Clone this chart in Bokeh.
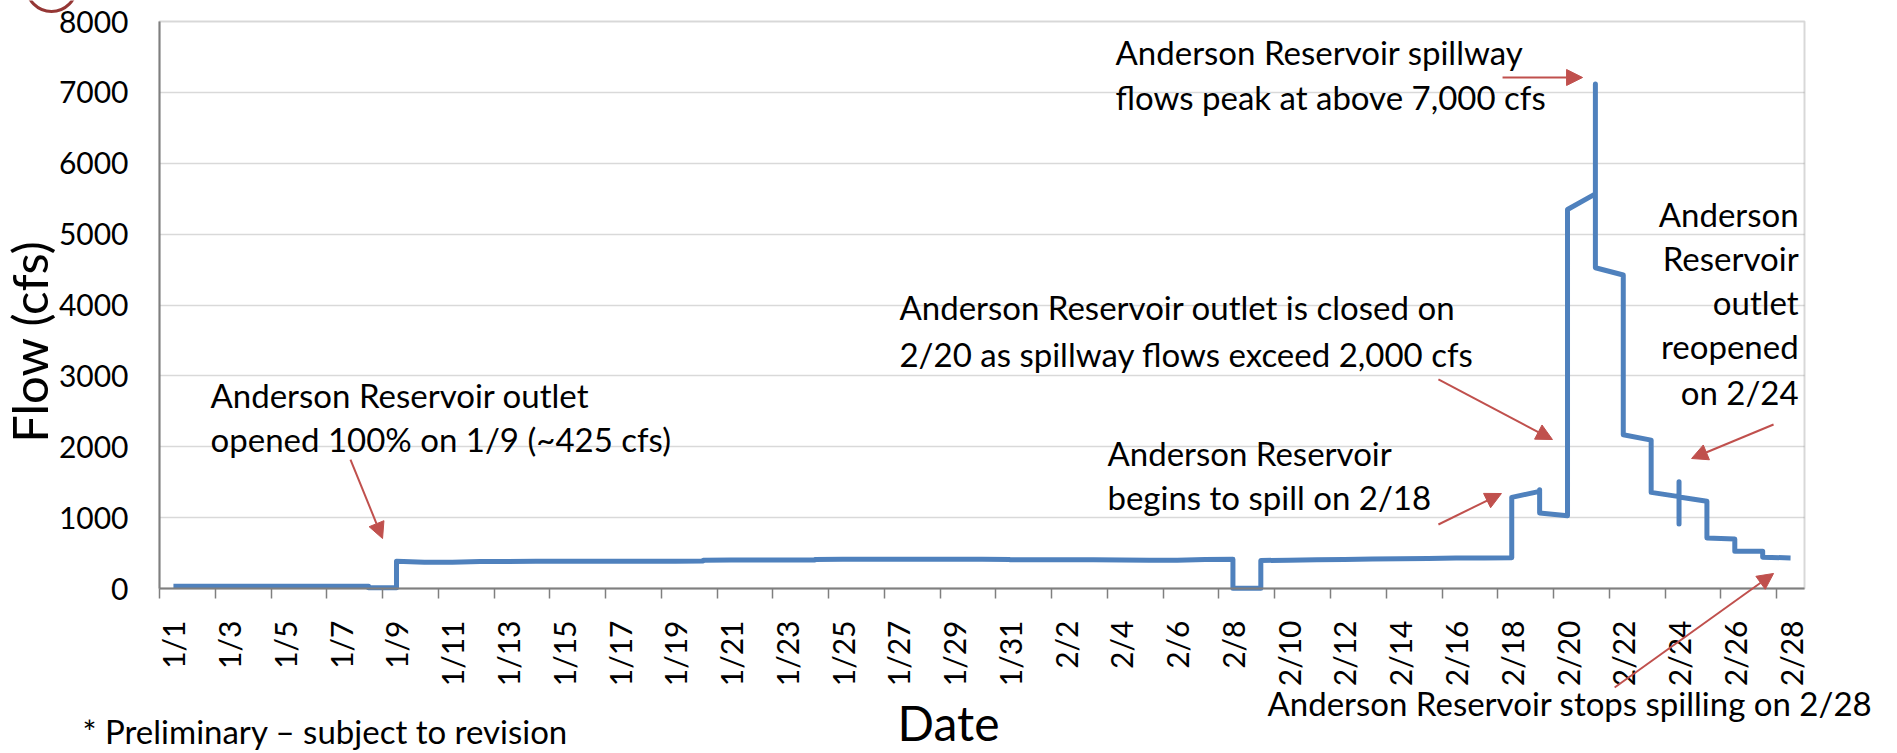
from math import pi
from bokeh.plotting import figure
from bokeh.models import Label, Arrow, NormalHead, FixedTicker, Range1d, BoxAnnotation
from bokeh.embed import file_html
from bokeh.resources import INLINE

# ---------------- data ----------------
date_labels = ["1/1", "1/2", "1/3", "1/4", "1/5", "1/6", "1/7", "1/8", "1/9", "1/10",
               "1/11", "1/12", "1/13", "1/14", "1/15", "1/16", "1/17", "1/18", "1/19", "1/20",
               "1/21", "1/22", "1/23", "1/24", "1/25", "1/26", "1/27", "1/28", "1/29", "1/30",
               "1/31", "2/1", "2/2", "2/3", "2/4", "2/5", "2/6", "2/7", "2/8", "2/9",
               "2/10", "2/11", "2/12", "2/13", "2/14", "2/15", "2/16", "2/17", "2/18", "2/19",
               "2/20", "2/21", "2/22", "2/23", "2/24", "2/25", "2/26", "2/27", "2/28"]

# readings in order; several readings of one day share that day's position (0 = 1/1)
reading_day = [0, 1, 2, 3, 4, 5, 6, 7, 7, 8, 8, 9, 10, 11, 12, 13, 14, 15, 16, 17, 18,
               19, 19, 20, 21, 22, 23, 23, 24, 25, 26, 27, 28, 29, 30, 30,
               31, 32, 33, 34, 35, 36, 37, 38, 38, 39, 39, 40, 41, 42, 43, 44, 45, 46, 47,
               48, 48, 49, 49, 49, 50, 50, 51, 51, 51, 52, 52, 53, 53,
               54, 54, 54, 54, 55, 55, 56, 56, 57, 57, 58]
reading_flow = [30, 30, 30, 30, 30, 30, 32, 32, 12, 12, 385, 370, 372, 382, 382, 383, 383, 384, 384, 385, 385,
                388, 400, 402, 402, 403, 403, 410, 412, 412, 412, 412, 412, 412, 410, 405,
                405, 405, 405, 403, 400, 400, 408, 412, 5, 5, 395, 400, 405, 410, 415, 420, 425, 430, 432,
                435, 1286, 1370, 1394, 1066, 1028, 5348, 5568, 7117, 4525, 4423, 2169, 2094, 1356,
                1296, 1507, 911, 1290, 1230, 714, 700, 525, 525, 441, 432]

y_ticks = [0, 1000, 2000, 3000, 4000, 5000, 6000, 7000, 8000]

# ---------------- layout (pixels) ----------------
W, H = 1890, 753
AREA_L, AREA_R, AREA_T, AREA_B = 159, 1804, 21, 588      # plot area inside the canvas
X0, X1 = -0.5, len(date_labels) - 0.5                     # day axis span
Y0, Y1 = y_ticks[0], y_ticks[-1]
px_x = (AREA_R - AREA_L) / (X1 - X0)
px_y = (AREA_B - AREA_T) / (Y1 - Y0)
x_range = Range1d(X0 - AREA_L / px_x, X1 + (W - AREA_R) / px_x)
y_range = Range1d(Y0 - (H - AREA_B) / px_y, Y1 + AREA_T / px_y)

FONT = "Lato"
BLUE = "#4F81BD"
RED = "#C0504D"
GREY = "#7F7F7F"

p = figure(width=W, height=H, output_backend="svg", toolbar_location=None,
           x_range=x_range, y_range=y_range,
           min_border_left=0, min_border_top=0, min_border_right=0, min_border_bottom=0)
p.title.visible = False
p.background_fill_color = "white"
p.border_fill_color = "white"
p.outline_line_color = None

# plot-area border
p.add_layout(BoxAnnotation(left=X0, right=X1, bottom=Y0, top=Y1, fill_color=None,
                           line_color=GREY, line_width=2, level="underlay"))

p.ygrid.grid_line_color = "#D9D9D9"
p.ygrid.grid_line_width = 1.5
p.ygrid.ticker = FixedTicker(ticks=y_ticks[1:-1])
p.ygrid.cross_bounds = (X0, X1)
p.xgrid.grid_line_color = None

p.line(reading_day, reading_flow, line_color=BLUE, line_width=5, line_join="round")

# x axis: labels at every other day, tick marks at day boundaries
label_days = list(range(0, len(date_labels), 2))
xa = p.xaxis[0]
xa.fixed_location = Y0
xa.bounds = (X0, X1)
xa.ticker = FixedTicker(ticks=label_days, minor_ticks=[d - 0.5 for d in label_days])
xa.major_label_overrides = {d: date_labels[d] for d in label_days}
xa.major_label_orientation = pi / 2
xa.major_tick_line_color = None
xa.major_tick_out = 0
xa.major_tick_in = 0
xa.minor_tick_line_color = GREY
xa.minor_tick_line_width = 1.5
xa.minor_tick_out = 10
xa.minor_tick_in = 0
xa.major_label_standoff = 22
xa.major_label_text_font = FONT
xa.major_label_text_font_size = "30px"
xa.major_label_text_color = "black"
xa.axis_line_color = GREY
xa.axis_line_width = 2

ya = p.yaxis[0]
ya.fixed_location = X0
ya.bounds = (Y0, Y1)
ya.ticker = FixedTicker(ticks=y_ticks, minor_ticks=[])
ya.major_tick_line_color = None
ya.major_tick_out = 0
ya.major_tick_in = 0
ya.major_label_standoff = 31
ya.major_label_text_font = FONT
ya.major_label_text_font_size = "30px"
ya.major_label_text_color = "black"
ya.axis_line_color = GREY
ya.axis_line_width = 2

# decorative ring at the top-left corner of the slide
p.scatter([X0 - 108 / px_x], [Y1 + 35 / px_y], marker="circle", size=50,
          fill_color=None, line_color="#953735", line_width=3)


def text(x, y, s, size="33px", align="left", angle=0):
    p.add_layout(Label(x=x, y=y, text=s, text_font=FONT, text_font_size=size,
                       text_align=align, text_baseline="middle", angle=angle,
                       text_color="black"))


def arrow(x0, y0, x1, y1):
    p.add_layout(Arrow(x_start=x0, y_start=y0, x_end=x1, y_end=y1,
                       line_color=RED, line_width=2,
                       end=NormalHead(size=16, fill_color=RED, line_color=RED, line_width=1)))


# axis titles and footnote
text(-5.163, 3485, "Flow (cfs)", size="49px", align="center", angle=pi / 2)
text(27.8, -1890, "Date", size="48px", align="center")
text(-3.26, -2010, "* Preliminary \u2013 subject to revision")

# annotations
text(1.33, 2728, "Anderson Reservoir outlet")
text(1.33, 2107, "opened 100% on 1/9 (~425 cfs)")
arrow(6.35, 1820, 7.5, 705)

text(33.5, 1909, "Anderson Reservoir")
text(33.5, 1289, "begins to spill on 2/18")
arrow(45.37, 903, 47.63, 1340)

text(26.04, 3976, "Anderson Reservoir outlet is closed on")
text(26.04, 3313, "2/20 as spillway flows exceed 2,000 cfs")
arrow(45.37, 2949, 49.46, 2102)

text(33.79, 7567, "Anderson Reservoir spillway")
text(33.79, 6932, "flows peak at above 7,000 cfs")
arrow(47.67, 7210, 50.54, 7210)

for s, yy in zip(["Anderson", "Reservoir", "outlet", "reopened", "on 2/24"],
                 [5283, 4663, 4042, 3421, 2772]):
    text(58.29, yy, s, align="right")
arrow(57.39, 2314, 54.45, 1834)

text(39.24, -1610, "Anderson Reservoir stops spilling on 2/28")
arrow(51.69, -1397, 57.39, 212)

open("out.html", "w").write(file_html(p, INLINE))
